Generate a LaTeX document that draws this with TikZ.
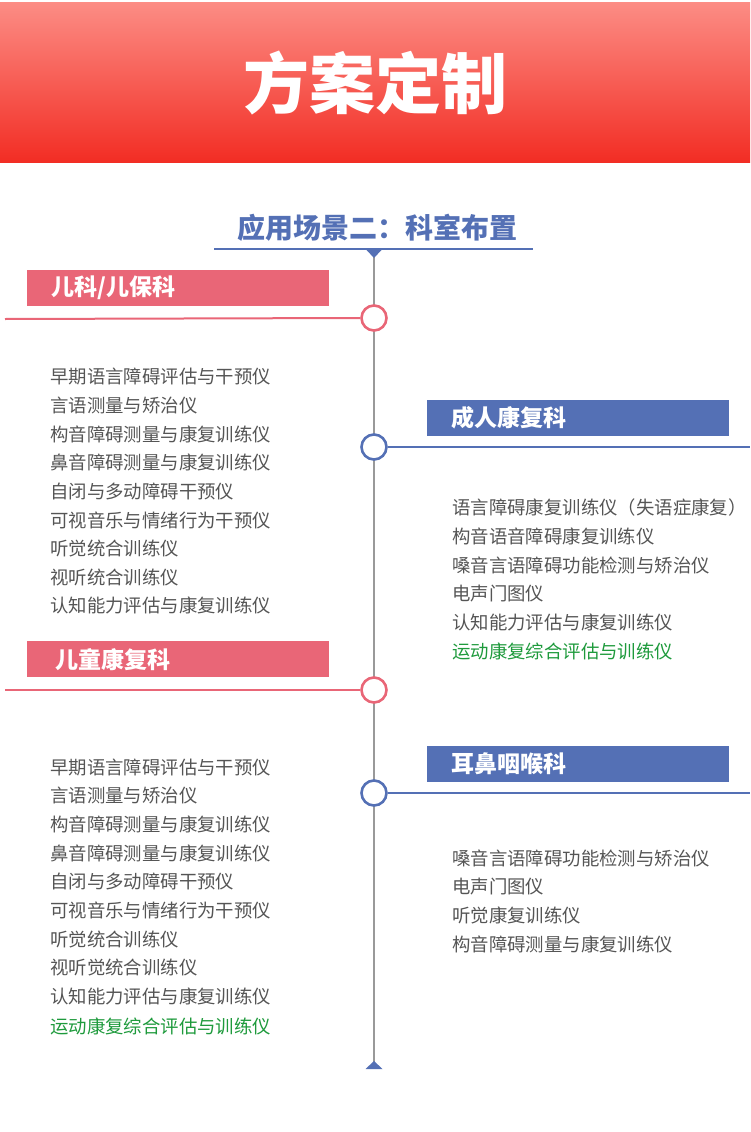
\documentclass[tikz,border=0pt]{standalone}
\usepackage{fontspec}
\newfontfamily\cjk{Noto Sans CJK SC}
\definecolor{headtop}{HTML}{FC8C84}
\definecolor{headbot}{HTML}{F22D24}
\definecolor{pinkc}{HTML}{E96677}
\definecolor{bluec}{HTML}{5470B5}
\definecolor{itemgray}{HTML}{555555}
\definecolor{itemgreen}{HTML}{1E9A3C}

\begin{document}
\begin{tikzpicture}[x=1pt,y=-1pt,
    title/.style={text=white, font=\cjk\bfseries\fontsize{66}{72}\selectfont},
    subtitle/.style={text=bluec, font=\cjk\bfseries\fontsize{28}{32}\selectfont},
    catbox/.style={anchor=north west, minimum width=302pt, minimum height=36pt,
      inner xsep=24pt, text width=254pt, align=left, text=white,
      font=\cjk\bfseries\fontsize{23}{26}\selectfont},
    dot/.style={circle, draw, fill=white, line width=2.6pt, minimum size=25pt, inner sep=0pt},
    item/.style={anchor=west, inner sep=0pt, text=itemgray,
      font=\cjk\fontsize{18.4}{21}\selectfont},
    axis/.style={draw=gray!80, line width=1.2pt},
    ]
    \useasboundingbox (0,0) rectangle (750,1132);
    \shade[top color=headtop, bottom color=headbot] (0,3) rectangle (750,162);
    \node[title] (title) at (375,83) {方案定制};
    \node[subtitle] (sub) at (377,228) {应用场景二：科室布置};
    \coordinate (ul) at (214,249);
    \coordinate (ur) at (533,249);
    \draw[bluec, line width=2.4pt] (ul) -- (ur);
    \coordinate (top) at (374,250);
    \coordinate (bot) at (374,1066);
    \draw[axis] (top) -- (bot);
    \fill[bluec] (366.5,250) -- (381.5,250) -- (374,258) -- cycle;
    \fill[bluec] (365.5,1069) -- (382.5,1069) -- (374,1061) -- cycle;

    \node[catbox, fill=pinkc] (b1) at (27,270) {儿科/儿保科};
    \node[catbox, fill=bluec] (b2) at (427,400) {成人康复科};
    \node[catbox, fill=pinkc, inner xsep=28pt, text width=246pt] (b3) at (27,641) {儿童康复科};
    \node[catbox, fill=bluec] (b4) at (427,746) {耳鼻咽喉科};

    \coordinate (e1) at (5,319);
    \coordinate (e2) at (750,447);
    \coordinate (e3) at (5,690);
    \coordinate (e4) at (750,793);
    \node[dot, draw=pinkc] (d1) at (374,318) {};
    \node[dot, draw=bluec] (d2) at (374,447) {};
    \node[dot, draw=pinkc] (d3) at (374,690) {};
    \node[dot, draw=bluec] (d4) at (374,793) {};
    \draw[pinkc, line width=2pt] (e1) -- (d1.west);
    \draw[bluec, line width=2pt] (d2.east) -- (e2);
    \draw[pinkc, line width=2pt] (e3) -- (d3.west);
    \draw[bluec, line width=2pt] (d4.east) -- (e4);

    \foreach \t [count=\i] in {早期语言障碍评估与干预仪, 言语测量与矫治仪,
        构音障碍测量与康复训练仪, 鼻音障碍测量与康复训练仪, 自闭与多动障碍干预仪,
        可视音乐与情绪行为干预仪, 听觉统合训练仪, 视听统合训练仪,
        认知能力评估与康复训练仪}
      \node[item] (pa\i) at (50,{377+28.6*(\i-1)}) {\t};

    \foreach \t [count=\i] in {语言障碍康复训练仪（失语症康复）, 构音语音障碍康复训练仪,
        嗓音言语障碍功能检测与矫治仪, 电声门图仪, 认知能力评估与康复训练仪}
      \node[item] (ad\i) at (452,{508+28.6*(\i-1)}) {\t};
    \node[item, text=itemgreen] (ad6) at (452,651) {运动康复综合评估与训练仪};

    \foreach \t [count=\i] in {早期语言障碍评估与干预仪, 言语测量与矫治仪,
        构音障碍测量与康复训练仪, 鼻音障碍测量与康复训练仪, 自闭与多动障碍干预仪,
        可视音乐与情绪行为干预仪, 听觉统合训练仪, 视听觉统合训练仪,
        认知能力评估与康复训练仪}
      \node[item] (ch\i) at (50,{767+28.7*(\i-1)}) {\t};
    \node[item, text=itemgreen] (ch10) at (50,1026) {运动康复综合评估与训练仪};

    \foreach \t [count=\i] in {嗓音言语障碍功能检测与矫治仪, 电声门图仪,
        听觉康复训练仪, 构音障碍测量与康复训练仪}
      \node[item] (en\i) at (452,{858+28.9*(\i-1)}) {\t};
  \end{tikzpicture}
\end{document}
